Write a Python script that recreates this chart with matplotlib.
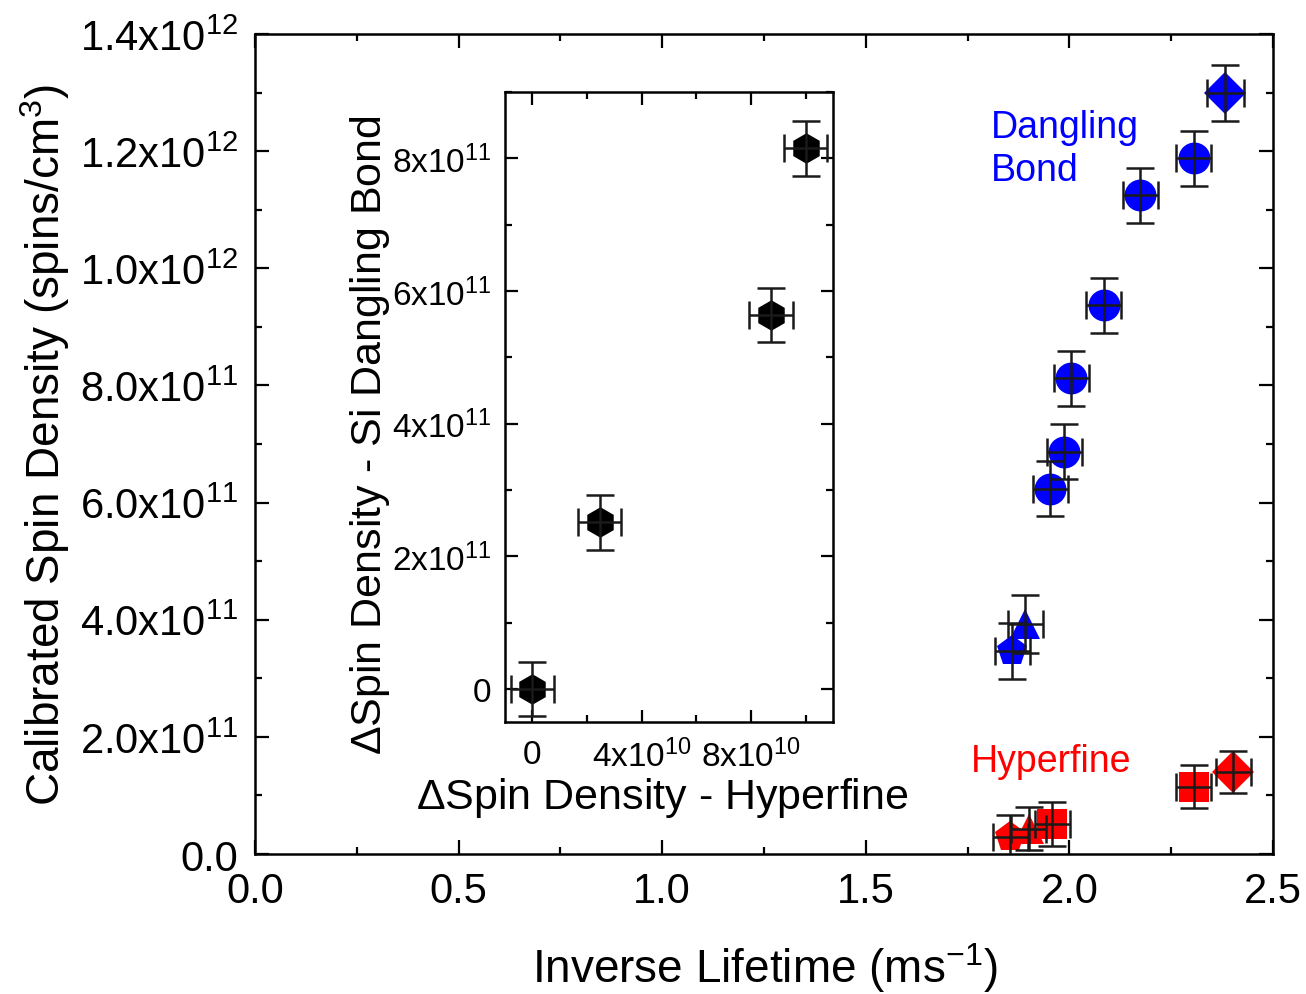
import matplotlib.pyplot as plt
from matplotlib.ticker import MultipleLocator, FuncFormatter

plt.rcParams['font.family'] = ['Liberation Sans', 'DejaVu Sans']
plt.rcParams['mathtext.fontset'] = 'custom'
plt.rcParams['mathtext.rm'] = 'Liberation Sans'
plt.rcParams['mathtext.it'] = 'Liberation Sans:italic'

# main plot data: inverse lifetime (ms^-1) vs spin density (spins/cm^3)
db_x = [2.383, 2.305, 2.174, 2.084, 2.005, 1.988, 1.953, 1.892, 1.860]
db_y = [1.299e12, 1.188e12, 1.125e12, 0.937e12, 0.812e12, 0.687e12, 0.624e12, 0.393e12, 0.347e12]
db_xerr = [0.045, 0.043, 0.043, 0.043, 0.043, 0.043, 0.043, 0.043, 0.043]
db_yerr = [0.048e12, 0.047e12, 0.047e12, 0.047e12, 0.047e12, 0.047e12, 0.047e12, 0.050e12, 0.048e12]
db_mk = ['D', 'o', 'o', 'o', 'o', 'o', 'o', '^', 'p']

hf_x = [1.855, 1.900, 1.958, 2.305, 2.403]
hf_y = [0.029e12, 0.043e12, 0.051e12, 0.115e12, 0.140e12]
hf_xerr = [0.043, 0.043, 0.043, 0.043, 0.043]
hf_yerr = [0.037e12, 0.037e12, 0.037e12, 0.037e12, 0.036e12]
hf_mk = ['p', '^', 's', 's', 'D']

# inset data
in_x = [0.0, 2.47e10, 8.73e10, 10.0e10]
in_y = [0.0, 2.51e11, 5.64e11, 8.15e11]
in_xerr = [0.79e10, 0.79e10, 0.79e10, 0.79e10]
in_yerr = [0.41e11, 0.41e11, 0.41e11, 0.41e11]

def sci(v, pos, dec=1):
    if v == 0:
        return '0.0' if dec else '0'
    e = 0
    m = abs(v)
    while m >= 10:
        m /= 10
        e += 1
    return ('%.*f' % (dec, m)) + r'x10$^{%d}$' % e

ms = {'o': 23, 'D': 21, '^': 22, 'p': 23, 's': 21}
eb = dict(fmt='none', ecolor='#1a1a1a', elinewidth=1.8, capsize=10, capthick=1.8, zorder=3)

fig = plt.figure(figsize=(13.06, 9.95), dpi=100)
ax = fig.add_axes([0.1953, 0.1407, 0.7794, 0.8241])

for x, y, m in zip(db_x, db_y, db_mk):
    ax.plot(x, y, m, color='#0000ff', ms=ms[m], mew=0, zorder=2)
ax.errorbar(db_x, db_y, xerr=db_xerr, yerr=db_yerr, **eb)
for x, y, m in zip(hf_x, hf_y, hf_mk):
    ax.plot(x, y, m, color='#ff0000', ms=ms[m], mew=0, zorder=2)
ax.errorbar(hf_x, hf_y, xerr=hf_xerr, yerr=hf_yerr, **eb)

ax.set_xlim(0, 2.5)
ax.set_ylim(0, 1.4e12)
ax.xaxis.set_major_locator(MultipleLocator(0.5))
ax.xaxis.set_minor_locator(MultipleLocator(0.25))
ax.yaxis.set_major_locator(MultipleLocator(0.2e12))
ax.yaxis.set_minor_locator(MultipleLocator(0.1e12))
ax.xaxis.set_major_formatter(FuncFormatter(lambda v, p: '%.1f' % v))
ax.yaxis.set_major_formatter(FuncFormatter(lambda v, p: sci(v, p, 1)))
ax.tick_params(which='both', direction='in', top=True, right=True, width=1.6, labelsize=30)
ax.tick_params(which='major', length=10)
ax.tick_params(which='minor', length=5)
ax.tick_params(axis='x', which='major', pad=12)
ax.tick_params(axis='y', which='major', pad=12)
for s in ax.spines.values():
    s.set_linewidth(1.8)

ax.set_xlabel(r'Inverse Lifetime (ms$^{-1}$)', fontsize=33, va='center')
ax.xaxis.set_label_coords(0.501, -0.138)
ax.set_ylabel(r'Calibrated Spin Density (spins/cm$^{3}$)', fontsize=33, va='center')
ax.yaxis.set_label_coords(-0.206, 0.5)

ax.text(1.806, 1.205e12, 'Dangling\nBond', color='#0000ff', fontsize=27,
        va='center', ha='left', linespacing=1.25)
ax.text(1.757, 0.159e12, 'Hyperfine', color='#ff0000', fontsize=27,
        va='center', ha='left')

# inset
ins = fig.add_axes([0.3867, 0.2734, 0.2511, 0.6331])
ins.plot(in_x, in_y, 'h', color='black', ms=22, mew=0, zorder=2)
ins.errorbar(in_x, in_y, xerr=in_xerr, yerr=in_yerr, **eb)
ins.set_xlim(-1e10, 1.1e11)
ins.set_ylim(-0.5e11, 9e11)
ins.xaxis.set_major_locator(MultipleLocator(4e10))
ins.xaxis.set_minor_locator(MultipleLocator(2e10))
ins.yaxis.set_major_locator(MultipleLocator(2e11))
ins.yaxis.set_minor_locator(MultipleLocator(1e11))
ins.xaxis.set_major_formatter(FuncFormatter(lambda v, p: sci(v, p, 0).replace('.', '')))
ins.yaxis.set_major_formatter(FuncFormatter(lambda v, p: sci(v, p, 0).replace('.', '')))
ins.tick_params(which='both', direction='in', top=True, right=True, width=1.6, labelsize=24)
ins.tick_params(which='major', length=9)
ins.tick_params(which='minor', length=5)
ins.tick_params(axis='x', which='major', pad=12)
ins.tick_params(axis='y', which='major', pad=10)
for s in ins.spines.values():
    s.set_linewidth(1.8)
ins.set_xlabel(r'$\Delta$Spin Density - Hyperfine', fontsize=31, va='center')
ins.xaxis.set_label_coords(0.479, -0.119)
ins.set_ylabel(r'$\Delta$Spin Density - Si Dangling Bond', fontsize=31, va='center')
ins.yaxis.set_label_coords(-0.412, 0.457)

fig.savefig('out.png', dpi=100)
